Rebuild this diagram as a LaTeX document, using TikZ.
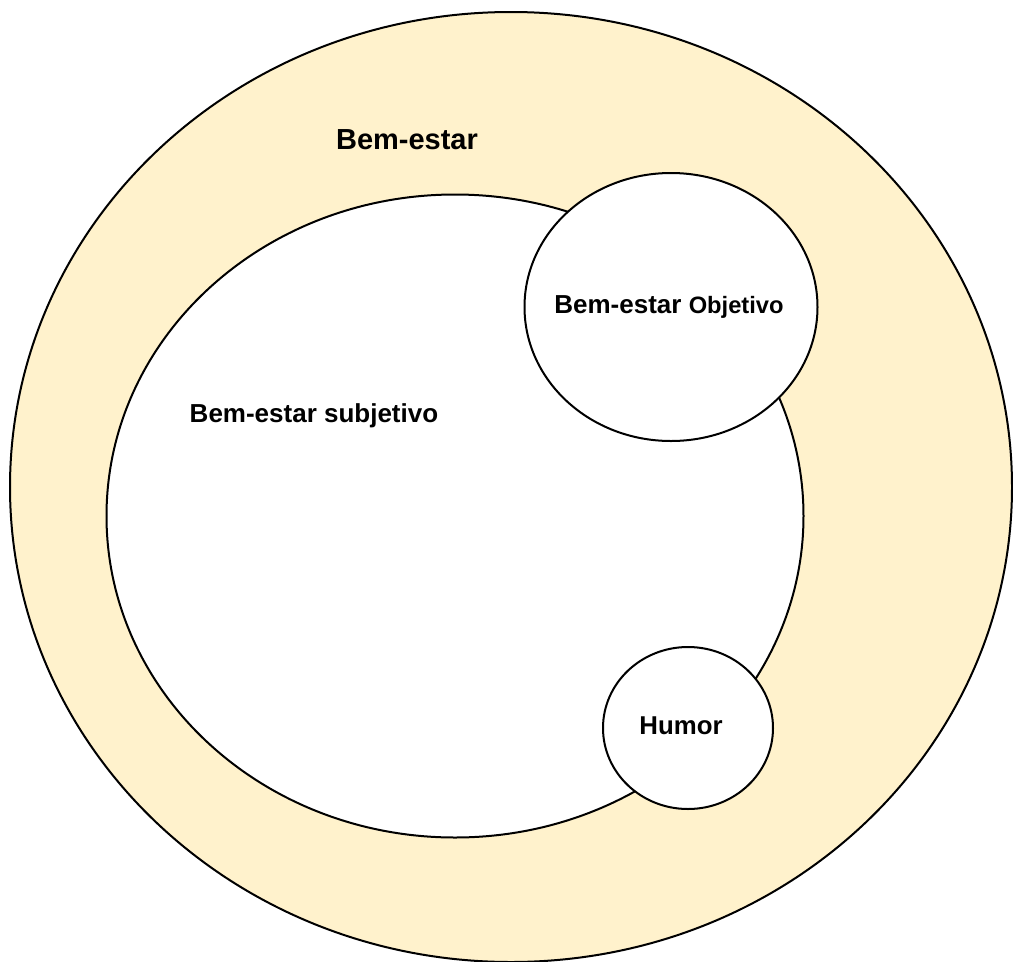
\documentclass[tikz,border=0pt]{standalone}
\usepackage{fontspec}
\setmainfont{Liberation Sans}
\usetikzlibrary{shapes.geometric}
\definecolor{creme}{HTML}{FFF2CC}

\begin{document}
\begin{tikzpicture}[
    x=1pt, y=-1pt,
    oval/.style={ellipse, draw, line width=2pt, inner sep=0pt, fill=#1},
    oval/.default=white,
    lbl/.style={font=\bfseries\fontsize{#1}{#1}\selectfont, anchor=base},
    lbl/.default=26
]
\useasboundingbox (0,0) rectangle (1013,962);

% Outer ring
\node[oval=creme, minimum width=1002pt, minimum height=950pt] (bem) at (511, 487) {};

% Subjective wellbeing
\node[oval, minimum width=697pt, minimum height=643pt] (subj) at (455, 516) {};

% Objective and mood
\node[oval, minimum width=293pt, minimum height=268pt] (obj) at (671, 307) {};
\node[oval, minimum width=170pt, minimum height=162pt] (hum) at (688, 728) {};

% Labels
\node[lbl=29] (tbem) at (407, 149) {Bem-estar};
\node[lbl] (tsubj) at (314, 422) {Bem-estar subjetivo};
\node[lbl] (tobj) at (669, 313) {Bem-estar {\fontsize{23.7}{24}\selectfont Objetivo}};
\node[lbl=25.8] (thum) at (681, 734) {Humor};

\end{tikzpicture}
\end{document}
